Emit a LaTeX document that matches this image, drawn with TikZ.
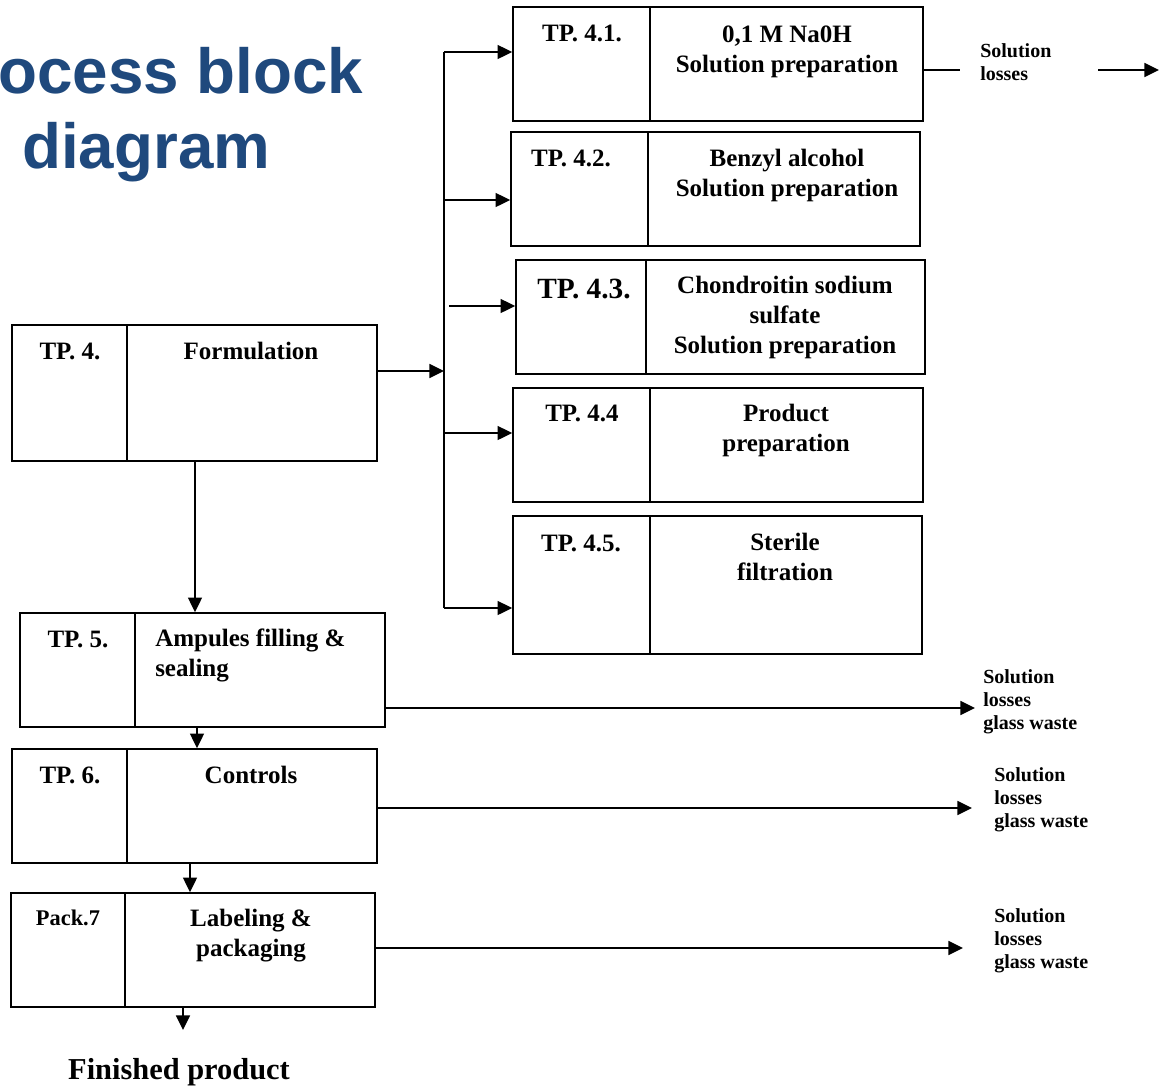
\documentclass[tikz,border=0pt]{standalone}
\usepackage{fontspec}
\setmainfont{Liberation Serif}
\newfontfamily\titlefont{Liberation Sans}
\usetikzlibrary{arrows.meta,fit}
\definecolor{titleblue}{RGB}{31,73,125}
\begin{document}
\begin{tikzpicture}[x=0.75pt,y=-0.75pt,
 box/.style={draw, line width=1.25pt, inner sep=0pt},
 conn/.style={line width=1.25pt},
 arr/.style={conn,-{Triangle[length=11pt,width=10.5pt]}},
 lbl/.style={anchor=base, inner sep=0pt, font=\bfseries\fontsize{18.75}{22.5}\selectfont, align=center},
 side/.style={anchor=base west, inner sep=0pt, font=\bfseries\fontsize{15}{17}\selectfont, align=left},
 ttl/.style={anchor=base west, inner sep=0pt, text=titleblue, font=\titlefont\bfseries\fontsize{47.8}{57}\selectfont},
]
\useasboundingbox (0,0) rectangle (1159,1085);

% title
\node[ttl] (title1) at (-2,93) {ocess block};
\node[ttl] (title2) at (22,168) {diagram};

% boxes
\node[box, fit={(513,7) (650,121)}] (a41) {};
\node[box, fit={(650,7) (923,121)}] (b41) {};
\node[box, fit={(511,132) (648,246)}] (a42) {};
\node[box, fit={(648,132) (920,246)}] (b42) {};
\node[box, fit={(516,260) (646,374)}] (a43) {};
\node[box, fit={(646,260) (925,374)}] (b43) {};
\node[box, fit={(513,388) (650,502)}] (a44) {};
\node[box, fit={(650,388) (923,502)}] (b44) {};
\node[box, fit={(513,516) (650,654)}] (a45) {};
\node[box, fit={(650,516) (922,654)}] (b45) {};
\node[box, fit={(12,325) (127,461)}] (a4) {};
\node[box, fit={(127,325) (377,461)}] (b4) {};
\node[box, fit={(20,613) (135,727)}] (a5) {};
\node[box, fit={(135,613) (385,727)}] (b5) {};
\node[box, fit={(12,749) (127,863)}] (a6) {};
\node[box, fit={(127,749) (377,863)}] (b6) {};
\node[box, fit={(11,893) (125,1007)}] (a7) {};
\node[box, fit={(125,893) (375,1007)}] (b7) {};

% box texts (base anchor = baseline of last line)
\node[lbl] (t41) at (582,41) {TP. 4.1.};
\node[lbl] (n41) at (787,72) {0,1 M Na0H\\Solution preparation};
\node[lbl] (t42) at (571,166) {TP. 4.2.};
\node[lbl] (n42) at (787,196) {Benzyl alcohol\\Solution preparation};
\node[lbl, font=\bfseries\fontsize{22}{26}\selectfont] (t43) at (584,298) {TP. 4.3.};
\node[lbl] (n43) at (785,353) {Chondroitin sodium\\sulfate\\Solution preparation};
\node[lbl] (t44) at (582,421) {TP. 4.4};
\node[lbl] (n44) at (786,451) {Product\\preparation};
\node[lbl] (t45) at (581,551) {TP. 4.5.};
\node[lbl] (n45) at (785,580) {Sterile\\filtration};
\node[lbl] (t4) at (70,359) {TP. 4.};
\node[lbl] (n4) at (251,359) {Formulation};
\node[lbl] (t5) at (78,647) {TP. 5.};
\node[lbl, anchor=base west, align=left] (n5) at (155,676) {Ampules filling \&\\sealing};
\node[lbl] (t6) at (70,783) {TP. 6.};
\node[lbl] (n6) at (251,783) {Controls};
\node[lbl, font=\bfseries\fontsize{16.8}{20}\selectfont] (t7) at (68,925) {Pack.7};
\node[lbl] (n7) at (251,956) {Labeling \&\\packaging};
\node[lbl, font=\bfseries\fontsize{22.8}{27}\selectfont] (fin) at (179,1079) {Finished product};

% side texts
\node[side] (s1) at (980,80) {Solution\\losses};
\node[side] (s5) at (983,729) {Solution\\losses\\glass waste};
\node[side] (s6) at (994,827) {Solution\\losses\\glass waste};
\node[side] (s7) at (994,968) {Solution\\losses\\glass waste};

% bus
\coordinate (j4) at (444,371);
\coordinate (p41) at (444,52);
\coordinate (p42) at (444,200);
\coordinate (p43) at (449,306);
\coordinate (p44) at (444,433);
\coordinate (p45) at (444,608);
\draw[arr] (b4.east |- j4) -- (j4);
\draw[conn] (p41) -- (p45);
\draw[arr] (p41) -- (a41.west |- p41);
\draw[arr] (p42) -- (a42.west |- p42);
\draw[arr] (p43) -- (a43.west |- p43);
\draw[arr] (p44) -- (a44.west |- p44);
\draw[arr] (p45) -- (a45.west |- p45);

% vertical flow
\coordinate (x4) at (195,0);
\coordinate (x5) at (197,0);
\coordinate (x6) at (190,0);
\coordinate (x7) at (183,1030);
\draw[arr] (b4.south -| x4) -- (b5.north -| x4);
\draw[arr] (b5.south -| x5) -- (b6.north -| x5);
\draw[arr] (b6.south -| x6) -- (b7.north -| x6);
\draw[arr] (b7.south -| x7) -- (x7);

% outputs
\coordinate (l1) at (960,70);
\coordinate (m1) at (1098,70);
\coordinate (e1) at (1159,70);
\draw[conn] (b41.east |- l1) -- (l1);
\draw[arr] (m1) -- (e1);
\coordinate (o5) at (975,708);
\coordinate (o6) at (972,808);
\coordinate (o7) at (963,948);
\draw[arr] (b5.east |- o5) -- (o5);
\draw[arr] (b6.east |- o6) -- (o6);
\draw[arr] (b7.east |- o7) -- (o7);
\end{tikzpicture}
\end{document}
